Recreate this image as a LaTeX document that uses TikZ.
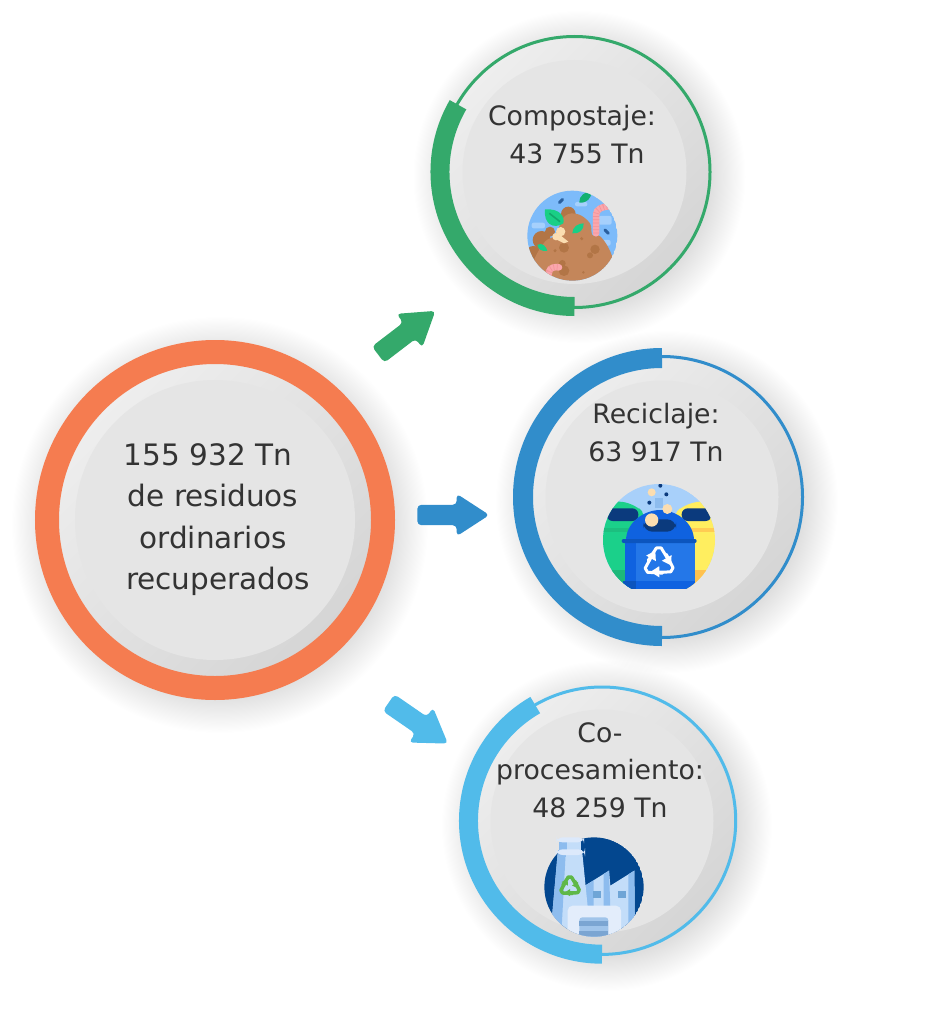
\documentclass[tikz,border=0pt]{standalone}
\usepackage{fontspec}
\setmainfont{DejaVu Sans}
\usetikzlibrary{shapes.arrows}
\definecolor{txt}{HTML}{333333}
\definecolor{corange}{HTML}{F57C50}
\definecolor{cgreen}{HTML}{34A96B}
\definecolor{cblue}{HTML}{318DCB}
\definecolor{clight}{HTML}{51BBEA}
\definecolor{discin}{HTML}{E5E5E5}
\definecolor{discl}{HTML}{EEEEEE}
\definecolor{discd}{HTML}{D5D5D5}
% compost icon
\definecolor{sky}{HTML}{7DBBFA}
\definecolor{cloud}{HTML}{A6D0FC}
\definecolor{soil}{HTML}{C4865A}
\definecolor{soild}{HTML}{B27546}
\definecolor{leaf}{HTML}{19CF86}
\definecolor{leafd}{HTML}{12A86C}
\definecolor{cream}{HTML}{FBDDB0}
\definecolor{worm}{HTML}{FAA7AC}
\definecolor{wormd}{HTML}{F4939A}
\definecolor{pill}{HTML}{2A5F9E}
% recycling icon
\definecolor{skyb}{HTML}{A8D0FA}
\definecolor{bingreen}{HTML}{1BD08A}
\definecolor{bingreend}{HTML}{1DB87A}
\definecolor{binyel}{HTML}{FFEE5F}
\definecolor{binyeld}{HTML}{FFC14F}
\definecolor{navy}{HTML}{0B3A7D}
\definecolor{binblue}{HTML}{2477E8}
\definecolor{binbluel}{HTML}{0F62E0}
\definecolor{binrim}{HTML}{0C55BE}
% factory icon
\definecolor{fdark}{HTML}{03478F}
\definecolor{flight}{HTML}{C3DDF9}
\definecolor{fmid}{HTML}{8DBCEE}
\definecolor{fcap}{HTML}{DCE9FB}
\definecolor{fwin}{HTML}{6FA5D6}
\definecolor{fbox}{HTML}{E3EDFB}
\definecolor{fstripe}{HTML}{7BA5D2}
\definecolor{fstripel}{HTML}{A0C4EA}
\definecolor{recgreen}{HTML}{5FB848}
\tikzset{
  lbl/.style={text=txt,align=center,inner sep=0pt,font=\fontsize{26.7}{37.3}\selectfont},
  lblbig/.style={text=txt,align=center,inner sep=0pt,font=\fontsize{29.5}{41.3}\selectfont},
  blockarrow/.style={single arrow,draw=none,fill=#1,minimum height=72pt,
    single arrow head extend=11pt,single arrow tip angle=66,inner sep=0pt,rounded corners=4pt},
}
\newcommand{\softshadow}[4]{% cx cy rmin rmax
  \foreach \k in {0,...,31}{
    \pgfmathsetmacro{\rr}{#4-(#4-#3)*\k/31}
    \fill[black,opacity=.0055] (#1+5,#2+5) circle (\rr);
  }
}
\newcommand{\roundel}[3]{% cx cy r
  \shade[left color=discl,right color=discd,shading angle=45] (#1,#2) circle (#3);
}
\newcommand{\recyc}[2]{% colour, line width
  \foreach \a in {0,120,240}{
    \begin{scope}[rotate=\a]
      \draw[#1,line width=#2,line join=round,line cap=round] (-25,-5) -- (-6,-34) -- (5,-34) -- (19,-11);
      \fill[#1] (29,-17.5) -- (6.7,-4.5) -- (28,6.3) -- cycle;
    \end{scope}
  }
}
\begin{document}
\begin{tikzpicture}[x=1pt,y=-1pt]
\useasboundingbox (0,0) rectangle (941,1035);
\fill[white] (0,0) rectangle (941,1035);

% ---- shadows
\softshadow{215}{520}{172}{208}
\softshadow{574.5}{172}{132}{166}
\softshadow{662}{497}{137}{171}
\softshadow{602}{821}{131}{165}

% ---- orange disc
\roundel{215}{520}{158}
\draw[corange,line width=24pt] (215,520) circle (168);
\fill[discin] (215,520) circle (140);

% ---- green disc
\roundel{574.5}{172}{135}
\draw[cgreen,line width=3pt] (574.5,172) circle (135.5);
\draw[cgreen,line width=19pt] (574.5,172) ++(210:134.5) arc (210:90:134.5);
\fill[discin] (574.5,172) circle (112);

% ---- blue disc
\roundel{662}{497}{140}
\draw[cblue,line width=3pt] (662,497) circle (140.5);
\draw[cblue,line width=20pt] (662,497) ++(270:139) arc (270:90:139);
\fill[discin] (662,497) circle (116.5);

% ---- light blue disc
\roundel{602}{820.7}{134}
\draw[clight,line width=3pt] (602,820.7) circle (133.7);
\draw[clight,line width=19pt] (602,820.7) ++(240:133.5) arc (240:90:133.5);
\fill[discin] (602,821) circle (111.5);

% ---- arrows
\node[blockarrow=cgreen,rotate=37.4] (arrowgreen) at (400.5,337.5) {\rule{0pt}{20pt}};
\node[blockarrow=cblue] (arrowblue) at (445.5,515) {\rule{0pt}{20pt}};
\node[blockarrow=clight,rotate=-34.6] (arrowlight) at (411.8,718.7) {\rule{0pt}{20pt}};

% ---- texts
\node[lblbig] (main) at (213,519.5) {155 932 Tn\hspace*{10pt}\\de residuos\\ordinarios\\\hspace*{10pt}recuperados};
\node[lbl] (compost) at (574.5,134.5) {Compostaje:\hspace*{5pt}\\\hspace*{5pt}43 755 Tn};
\node[lbl] (recic) at (656,432.5) {Reciclaje:\\63 917 Tn};
\node[lbl] (coproc) at (600,770) {Co-\\procesamiento:\\48 259 Tn};

% ---- compost icon (coordinates of a 3x crop)
\begin{scope}[shift={(510,180)},scale=1/3]
  \clip (187,167) circle (135);
  \fill[sky] (187,167) circle (135);
  \fill[cloud,rounded corners=2pt] (65,128) rectangle (105,145);
  \fill[cloud,rounded corners=2pt] (195,66) rectangle (232,79);
  \fill[cloud,rounded corners=2pt] (265,108) rectangle (305,134);
  \fill[cloud,rounded corners=2pt] (272,180) rectangle (302,197);
  \fill[soild] (175,102) circle (22);
  \fill[soild] (120,155) circle (15);
  \fill[soild] (95,180) circle (27);
  \fill[soild] (70,220) circle (22);
  \fill[soil] plot[smooth cycle,tension=.6] coordinates {
    (50,320) (72,240) (105,185) (135,165) (165,108) (205,103) (240,130) (247,165) (272,170) (305,225) (325,320)};
  \fill[leaf] (105,88) .. controls (150,85) and (165,110) .. (160,130) .. controls (130,150) and (100,130) .. (105,88);
  \draw[leafd,line width=1.6pt] (118,100) -- (150,125);
  \fill[leafd!80!leaf] (208,68) .. controls (208,45) and (225,35) .. (244,35) .. controls (245,55) and (230,70) .. (208,68);
  \fill[leaf] (187,160) .. controls (187,140) and (205,130) .. (221,130) .. controls (222,150) and (208,162) .. (187,160);
  \fill[leaf] (82,195) .. controls (95,185) and (110,200) .. (112,213) .. controls (95,215) and (85,208) .. (82,195);
  \fill[soild] (162,203) circle (15);
  \fill[soild] (255,208) circle (14);
  \fill[soild] (240,226) circle (9);
  \fill[soild] (162,272) circle (16);
  \fill[soild] (157,250) circle (10);
  \fill[soild] (215,176) circle (5);
  \fill[soild] (135,212) circle (5);
  \fill[soild] (220,277) circle (4);
  \fill[cream] (152,155) circle (14);
  \fill[cream] (138,170) circle (11);
  \fill[cream] (150,165) -- (175,185) -- (162,190) -- (138,178) -- cycle;
  \draw[worm,line width=6.5pt,line cap=round] (258,160) -- (258,105) .. controls (258,88) and (275,80) .. (296,79);
  \draw[wormd,line width=6.5pt,dash pattern=on .7pt off 2.6pt] (258,160) -- (258,105) .. controls (258,88) and (275,80) .. (296,79);
  \draw[worm,line width=6.5pt,line cap=round] (115,295) -- (117,275) .. controls (120,262) and (135,260) .. (147,262);
  \draw[wormd,line width=6.5pt,dash pattern=on .7pt off 2.6pt] (115,295) -- (117,275) .. controls (120,262) and (135,260) .. (147,262);
  \draw[pill,line width=3pt,line cap=round] (148,68) -- (158,58);
  \draw[pill,line width=3pt,line cap=round] (285,150) -- (295,160);
\end{scope}

% ---- recycling icon
\begin{scope}[shift={(590,475)},scale=1/3]
  \clip (30,0) rectangle (385,340);
  \clip (207,195) circle (168);
  \fill[skyb] (207,195) circle (168);
  \fill[fmid] (195,100) rectangle (220,70);
  \fill[bingreen,rounded corners=14pt] (20,80) -- (130,80) -- (175,130) -- (175,345) -- (20,345) -- cycle;
  \fill[bingreend] (20,285) rectangle (125,345);
  \fill[bingreend!70!bingreen] (20,160) rectangle (125,172);
  \fill[binyel,rounded corners=14pt] (240,130) -- (290,80) -- (400,80) -- (400,345) -- (240,345) -- cycle;
  \fill[binyeld] (300,285) rectangle (400,345);
  \fill[binyeld!75!binyel] (300,160) rectangle (400,172);
  \fill[navy,rounded corners=6pt] (50,100) rectangle (145,138);
  \fill[navy,rounded corners=6pt] (275,100) rectangle (365,138);
  \fill[binbluel] (108,197) .. controls (108,140) and (165,105) .. (210,105) .. controls (255,105) and (312,140) .. (312,197) -- cycle;
  \fill[binblue] (105,197) rectangle (315,322);
  \fill[binbluel] (105,197) rectangle (137,322);
  \fill[binbluel] (105,318) rectangle (315,345);
  \fill[binrim] (100,318) rectangle (137,345);
  \fill[navy,rounded corners=9pt] (160,133) rectangle (258,170);
  \fill[binrim,rounded corners=2pt] (95,192) rectangle (320,204);
  \begin{scope}[shift={(207,263)},scale=1.3]
    \recyc{white}{3pt}
  \end{scope}
  \fill[cream] (185,135) circle (20);
  \fill[cream] (232,102) circle (15);
  \fill[cream] (185,52) circle (12);
  \fill[navy] (211,32) circle (6);
  \fill[navy] (229,58) circle (6);
  \fill[navy] (178,83) circle (6);
\end{scope}

% ---- factory icon
\begin{scope}[shift={(535,825)},scale=1/3]
  \begin{scope}
    \clip (177,186) circle (149);
    \fill[fdark] (177,186) circle (149);
    \fill[flight] (150,182) -- (222,137) -- (226,182) -- (298,137) -- (300,340) -- (150,340) -- cycle;
    \fill[fmid] (150,182) -- (176,166) -- (176,250) -- (150,250) -- cycle;
    \fill[fmid] (206,147) -- (222,137) -- (226,250) -- (206,250) -- cycle;
    \fill[fmid] (280,148) -- (298,137) -- (300,340) -- (280,340) -- cycle;
    \fill[fwin] (175,198) rectangle (197,220);
    \fill[fwin] (250,198) rectangle (272,220);
    \fill[flight] (68,85) -- (142,85) -- (168,345) -- (45,345) -- cycle;
    \fill[fmid] (68,85) -- (92,85) -- (78,345) -- (45,345) -- cycle;
    \fill[fbox,rounded corners=5pt] (98,242) rectangle (258,350);
    \fill[fstripel,rounded corners=3pt] (133,277) rectangle (220,345);
    \fill[fstripe] (133,288) rectangle (220,303);
    \fill[fstripe] (133,317) rectangle (220,345);
  \end{scope}
  \fill[flight] (72,50) rectangle (138,75);
  \fill[fmid] (72,50) rectangle (97,75);
  \fill[fmid] (68,75) -- (92,75) -- (92,95) -- (68,95) -- cycle;
  \fill[flight] (92,75) -- (142,75) -- (142,95) -- (92,95) -- cycle;
  \fill[fcap,rounded corners=6pt] (65,37) rectangle (147,52);
  \fill[fcap,rounded corners=7pt] (62,73) rectangle (150,90);
  \begin{scope}[shift={(105,185)},scale=.85]
    \recyc{recgreen}{3.5pt}
  \end{scope}
\end{scope}
\end{tikzpicture}
\end{document}
